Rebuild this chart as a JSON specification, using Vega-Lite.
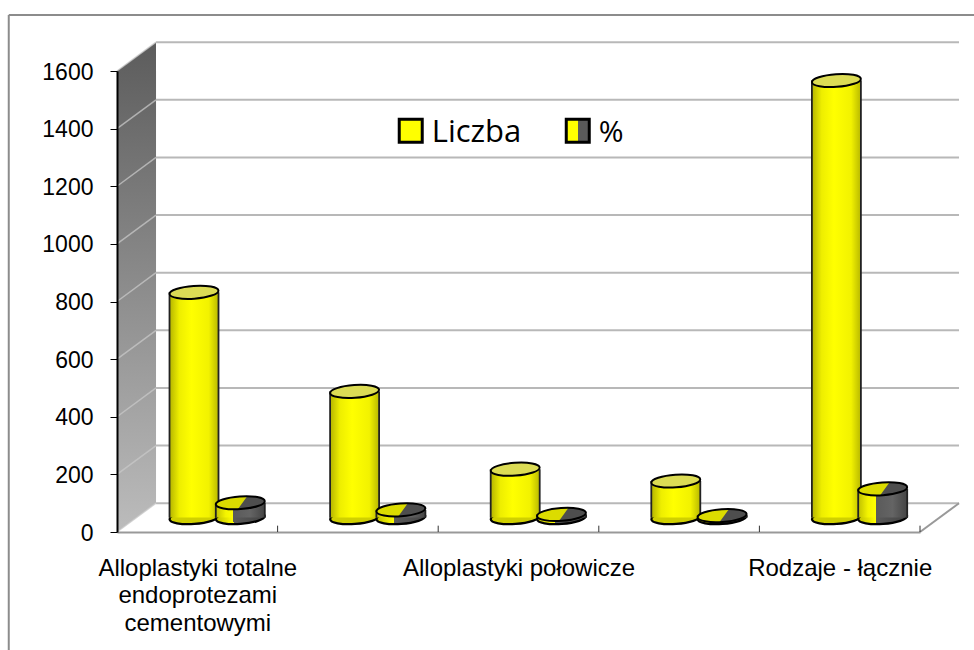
{
  "$schema": "https://vega.github.io/schema/vega-lite/v6.json",
  "width": 803,
  "height": 461,
  "autosize": "none",
  "padding": {"left": 117, "top": 71, "right": 54, "bottom": 118},
  "background": "white",
  "config": {"view": {"stroke": null}},
  "datasets": {
    "bars": [
      {"group": 1, "series": "Liczba", "value": 782},
      {"group": 2, "series": "Liczba", "value": 438},
      {"group": 3, "series": "Liczba", "value": 168},
      {"group": 4, "series": "Liczba", "value": 127},
      {"group": 5, "series": "Liczba", "value": 1517},
      {"group": 1, "series": "%", "value": 51.6},
      {"group": 2, "series": "%", "value": 27},
      {"group": 3, "series": "%", "value": 11},
      {"group": 4, "series": "%", "value": 7},
      {"group": 5, "series": "%", "value": 100}
    ],
    "grid": [
      {"level": 0, "back": 100},
      {"level": 200, "back": 300},
      {"level": 400, "back": 500},
      {"level": 600, "back": 700},
      {"level": 800, "back": 900},
      {"level": 1000, "back": 1100},
      {"level": 1200, "back": 1300},
      {"level": 1400, "back": 1500},
      {"level": 1600, "back": 1700}
    ],
    "wall": [
      {"x": 0.5, "low": 0, "high": 1600},
      {"x": 0.743, "low": 100, "high": 1700}
    ],
    "ticks": [{"at": 1.5}, {"at": 2.5}, {"at": 3.5}, {"at": 4.5}, {"at": 5.5}],
    "one": [{"note": "chart furniture"}]
  },
  "layer": [
    {
      "data": {"name": "wall"},
      "mark": {
        "type": "area",
        "orient": "vertical",
        "fill": {"x1": 0, "y1": 0, "x2": 0, "y2": 1, "gradient": "linear", "stops": [
          {"offset": 0, "color": "#5c5c5c"},
          {"offset": 1, "color": "#bcbcbc"}
        ]}
      },
      "encoding": {
        "x": {
          "field": "x", "type": "quantitative",
          "scale": {"domain": [0.5, 5.5], "nice": false, "zero": false, "padding": 0},
          "axis": {
            "title": null, "values": [1, 3, 5], "ticks": false, "grid": false,
            "domainColor": "#999999", "domainWidth": 2,
            "labelFont": "Liberation Sans", "labelFontSize": 24, "labelColor": "#000000",
            "labelPadding": 24, "labelLineHeight": 27.5, "labelOverlap": false, "labelFlush": false,
            "labelLimit": 400, "labelAngle": 0, "labelAlign": "center", "labelBaseline": "top",
            "labelExpr": "datum.value == 1 ? ['Alloplastyki totalne', 'endoprotezami', 'cementowymi'] : datum.value == 3 ? 'Alloplastyki połowicze' : 'Rodzaje - łącznie'"
          }
        },
        "y": {
          "field": "low", "type": "quantitative",
          "scale": {"domain": [0, 1600], "nice": false},
          "axis": {
            "title": null, "values": [0, 200, 400, 600, 800, 1000, 1200, 1400, 1600], "grid": false, "format": "d",
            "domainColor": "#000000", "domainWidth": 2, "tickColor": "#000000", "tickSize": 7, "tickWidth": 1,
            "labelFont": "Liberation Sans", "labelFontSize": 23, "labelColor": "#000000", "labelPadding": 17,
            "labelOffset": 1, "zindex": 1
          }
        },
        "y2": {"field": "high"}
      }
    },
    {
      "data": {"name": "grid"},
      "mark": {"type": "rule", "color": "#b8b8b8", "strokeWidth": 2},
      "encoding": {
        "x": {"datum": 0.743, "type": "quantitative"},
        "x2": {"datum": 5.743},
        "y": {"field": "back", "type": "quantitative"}
      }
    },
    {
      "data": {"name": "grid"},
      "mark": {"type": "rule", "color": "#c8c8c8", "strokeWidth": 1.5, "opacity": 0.75},
      "encoding": {
        "x": {"datum": 0.5, "type": "quantitative"},
        "x2": {"datum": 0.743},
        "y": {"field": "level", "type": "quantitative"},
        "y2": {"field": "back"}
      }
    },
    {
      "data": {"name": "one"},
      "mark": {"type": "rule", "color": "#999999", "strokeWidth": 2},
      "encoding": {
        "x": {"datum": 5.5, "type": "quantitative"},
        "x2": {"datum": 5.743},
        "y": {"datum": 0, "type": "quantitative"},
        "y2": {"datum": 100}
      }
    },
    {
      "data": {"name": "ticks"},
      "mark": {"type": "rule", "color": "#333333", "strokeWidth": 1},
      "encoding": {
        "x": {"field": "at", "type": "quantitative"},
        "y": {"datum": 0, "type": "quantitative"},
        "y2": {"datum": 22}
      }
    },
    {
      "data": {"name": "bars"},
      "transform": [{"filter": "datum.series == 'Liczba'"}],
      "layer": [
        {
          "mark": {
            "type": "point", "filled": true, "opacity": 1, "size": 2401, "angle": 356,
            "shape": "M-1,0 C-1,-0.1436 -0.5523,-0.26 0,-0.26 C0.5523,-0.26 1,-0.1436 1,0 C1,0.1436 0.5523,0.26 0,0.26 C-0.5523,0.26 -1,0.1436 -1,0 Z",
            "fill": "#d0d000", "stroke": "#000000", "strokeWidth": 2.2, "xOffset": -3.3, "yOffset": -14.4
          },
          "encoding": {
            "x": {"field": "group", "type": "quantitative"},
            "y": {"datum": 0, "type": "quantitative"}
          }
        },
        {
          "mark": {
            "type": "bar", "orient": "vertical", "width": 49, "xOffset": -3.3, "yOffset": -14.4, "y2Offset": -14.4,
            "fill": {"x1": 0, "y1": 0, "x2": 1, "y2": 0, "gradient": "linear", "stops": [
              {"offset": 0, "color": "#b4b400"},
              {"offset": 0.2, "color": "#eeee00"},
              {"offset": 0.45, "color": "#ffff00"},
              {"offset": 0.8, "color": "#f2f200"},
              {"offset": 1, "color": "#b8b800"}
            ]}
          },
          "encoding": {
            "x": {"field": "group", "type": "quantitative"},
            "y": {"field": "value", "type": "quantitative", "stack": null},
            "y2": {"datum": 0}
          }
        },
        {
          "mark": {"type": "rule", "color": "#222222", "strokeWidth": 1.8, "xOffset": -27.8, "yOffset": -14.4, "y2Offset": -14.4},
          "encoding": {
            "x": {"field": "group", "type": "quantitative"},
            "y": {"field": "value", "type": "quantitative", "stack": null},
            "y2": {"datum": 0}
          }
        },
        {
          "mark": {"type": "rule", "color": "#222222", "strokeWidth": 1.8, "xOffset": 21.2, "yOffset": -14.4, "y2Offset": -14.4},
          "encoding": {
            "x": {"field": "group", "type": "quantitative"},
            "y": {"field": "value", "type": "quantitative", "stack": null},
            "y2": {"datum": 0}
          }
        },
        {
          "mark": {
            "type": "point", "filled": true, "opacity": 1, "size": 2401, "angle": 356,
            "shape": "M-1,0 C-1,-0.1436 -0.5523,-0.26 0,-0.26 C0.5523,-0.26 1,-0.1436 1,0 C1,0.1436 0.5523,0.26 0,0.26 C-0.5523,0.26 -1,0.1436 -1,0 Z",
            "fill": "#dcdc55", "stroke": "#000000", "strokeWidth": 2, "xOffset": -3.3, "yOffset": -14.4
          },
          "encoding": {
            "x": {"field": "group", "type": "quantitative"},
            "y": {"field": "value", "type": "quantitative", "stack": null}
          }
        }
      ]
    },
    {
      "data": {"name": "bars"},
      "transform": [{"filter": "datum.series == '%'"}],
      "layer": [
        {
          "mark": {
            "type": "point", "filled": true, "opacity": 1, "size": 2401, "angle": 356,
            "shape": "M-1,0 C-1,-0.1436 -0.5523,-0.26 0,-0.26 C0.5523,-0.26 1,-0.1436 1,0 C1,0.1436 0.5523,0.26 0,0.26 C-0.5523,0.26 -1,0.1436 -1,0 Z",
            "fill": {"x1": 0, "y1": 0, "x2": 1, "y2": 0, "gradient": "linear", "stops": [
              {"offset": 0, "color": "#c0c000"},
              {"offset": 0.355, "color": "#ffff00"},
              {"offset": 0.355, "color": "#5a5a5a"},
              {"offset": 1, "color": "#444444"}
            ]},
            "stroke": "#000000", "strokeWidth": 2.2, "xOffset": 43, "yOffset": -14.4
          },
          "encoding": {
            "x": {"field": "group", "type": "quantitative"},
            "y": {"datum": 0, "type": "quantitative"}
          }
        },
        {
          "mark": {
            "type": "bar", "orient": "vertical", "width": 49, "xOffset": 43, "yOffset": -14.4, "y2Offset": -14.4,
            "fill": {"x1": 0, "y1": 0, "x2": 1, "y2": 0, "gradient": "linear", "stops": [
              {"offset": 0, "color": "#c0c000"},
              {"offset": 0.2, "color": "#f4f400"},
              {"offset": 0.355, "color": "#ffff00"},
              {"offset": 0.355, "color": "#5a5a5a"},
              {"offset": 0.7, "color": "#646464"},
              {"offset": 1, "color": "#444444"}
            ]}
          },
          "encoding": {
            "x": {"field": "group", "type": "quantitative"},
            "y": {"field": "value", "type": "quantitative", "stack": null},
            "y2": {"datum": 0}
          }
        },
        {
          "mark": {"type": "rule", "color": "#222222", "strokeWidth": 1.8, "xOffset": 18.5, "yOffset": -14.4, "y2Offset": -14.4},
          "encoding": {
            "x": {"field": "group", "type": "quantitative"},
            "y": {"field": "value", "type": "quantitative", "stack": null},
            "y2": {"datum": 0}
          }
        },
        {
          "mark": {"type": "rule", "color": "#222222", "strokeWidth": 1.8, "xOffset": 67.5, "yOffset": -14.4, "y2Offset": -14.4},
          "encoding": {
            "x": {"field": "group", "type": "quantitative"},
            "y": {"field": "value", "type": "quantitative", "stack": null},
            "y2": {"datum": 0}
          }
        },
        {
          "mark": {
            "type": "point", "filled": true, "opacity": 1, "size": 2401, "angle": 356,
            "shape": "M-1,0 C-1,-0.1436 -0.5523,-0.26 0,-0.26 C0.5523,-0.26 1,-0.1436 1,0 C1,0.1436 0.5523,0.26 0,0.26 C-0.5523,0.26 -1,0.1436 -1,0 Z",
            "fill": "#4e4e4e", "xOffset": 43, "yOffset": -14.4
          },
          "encoding": {
            "x": {"field": "group", "type": "quantitative"},
            "y": {"field": "value", "type": "quantitative", "stack": null}
          }
        },
        {
          "mark": {
            "type": "point", "filled": true, "opacity": 1, "size": 2401, "angle": 356,
            "shape": "M0.3,-0.248 L-0.12,0.257 C-0.6,0.24 -1,0.13 -1,0 C-1,-0.13 -0.6,-0.26 0,-0.26 C0.1,-0.26 0.2,-0.255 0.3,-0.248 Z",
            "fill": "#dcdc00", "xOffset": 43, "yOffset": -14.4
          },
          "encoding": {
            "x": {"field": "group", "type": "quantitative"},
            "y": {"field": "value", "type": "quantitative", "stack": null}
          }
        },
        {
          "mark": {
            "type": "point", "filled": false, "opacity": 1, "size": 2401, "angle": 356,
            "shape": "M-1,0 C-1,-0.1436 -0.5523,-0.26 0,-0.26 C0.5523,-0.26 1,-0.1436 1,0 C1,0.1436 0.5523,0.26 0,0.26 C-0.5523,0.26 -1,0.1436 -1,0 Z",
            "fill": "transparent", "stroke": "#000000", "strokeWidth": 2, "xOffset": 43, "yOffset": -14.4
          },
          "encoding": {
            "x": {"field": "group", "type": "quantitative"},
            "y": {"field": "value", "type": "quantitative", "stack": null}
          }
        }
      ]
    },
    {
      "data": {"name": "one"},
      "mark": {"type": "point", "shape": "square", "filled": true, "opacity": 1, "size": 529, "fill": "#ffff00", "stroke": "#000000", "strokeWidth": 3},
      "encoding": {
        "x": {"datum": 2.329, "type": "quantitative"},
        "y": {"datum": 1393, "type": "quantitative"}
      }
    },
    {
      "data": {"name": "one"},
      "mark": {"type": "text", "text": "Liczba", "font": "Open Sans", "fontSize": 31, "align": "left", "baseline": "middle", "color": "#000000", "dx": 21, "dy": 2},
      "encoding": {
        "x": {"datum": 2.329, "type": "quantitative"},
        "y": {"datum": 1393, "type": "quantitative"}
      }
    },
    {
      "data": {"name": "one"},
      "mark": {
        "type": "point", "shape": "square", "filled": true, "opacity": 1, "size": 529,
        "fill": {"x1": 0, "y1": 0, "x2": 1, "y2": 0, "gradient": "linear", "stops": [
          {"offset": 0, "color": "#ffff00"},
          {"offset": 0.5, "color": "#ffff00"},
          {"offset": 0.5, "color": "#5a5a5a"},
          {"offset": 1, "color": "#5a5a5a"}
        ]},
        "stroke": "#000000", "strokeWidth": 3
      },
      "encoding": {
        "x": {"datum": 3.369, "type": "quantitative"},
        "y": {"datum": 1393, "type": "quantitative"}
      }
    },
    {
      "data": {"name": "one"},
      "mark": {"type": "text", "text": "%", "font": "Open Sans", "fontSize": 30, "align": "left", "baseline": "middle", "color": "#000000", "dx": 21, "dy": 2},
      "encoding": {
        "x": {"datum": 3.369, "type": "quantitative"},
        "y": {"datum": 1393, "type": "quantitative"}
      }
    },
    {
      "data": {"name": "one"},
      "mark": {"type": "rule", "color": "#8c8c8c", "strokeWidth": 2},
      "encoding": {
        "x": {"datum": -0.174, "type": "quantitative"},
        "y": {"datum": 1794, "type": "quantitative"},
        "y2": {"datum": -410}
      }
    },
    {
      "data": {"name": "one"},
      "mark": {"type": "rule", "color": "#8c8c8c", "strokeWidth": 2},
      "encoding": {
        "x": {"datum": -0.174, "type": "quantitative"},
        "x2": {"datum": 5.837},
        "y": {"datum": 1794, "type": "quantitative"}
      }
    }
  ]
}
